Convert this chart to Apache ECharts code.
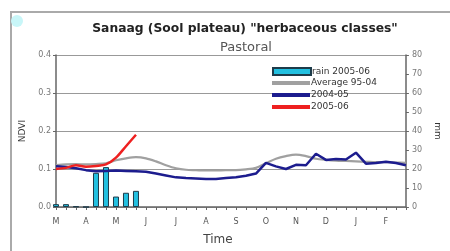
<!DOCTYPE html>
<html>
<head>
<meta charset="utf-8">
<script src="https://cdn.jsdelivr.net/npm/echarts@6/dist/echarts.min.js"></script>
<style>
  html, body { margin: 0; padding: 0; background: #fff; }
  #chart { width: 450px; height: 251px; }
</style>
</head>
<body>
<div id="chart"></div>
<script>
// dekads from March to February (3 per month)
const months = ['M', 'A', 'M', 'J', 'J', 'A', 'S', 'O', 'N', 'D', 'J', 'F']
const dekads = months.flatMap((m, i) => [1, 2, 3].map(d => m + '-' + i + '-' + d))

const rain0506 = [1.5, 1.5, 0.3, 0, 18, 21, 5.5, 7.5, 8.5]
const avg9504 = [0.110, 0.112, 0.113, 0.112, 0.113, 0.115, 0.123, 0.128, 0.131, 0.128,
  0.120, 0.110, 0.102, 0.098, 0.097, 0.096, 0.096, 0.097, 0.097, 0.099,
  0.103, 0.115, 0.127, 0.134, 0.138, 0.134, 0.127, 0.124, 0.122, 0.121,
  0.120, 0.119, 0.118, 0.118, 0.117, 0.116]
const ndvi0405 = [0.107, 0.105, 0.102, 0.097, 0.094, 0.095, 0.096, 0.095, 0.094, 0.093,
  0.088, 0.083, 0.078, 0.076, 0.075, 0.074, 0.074, 0.076, 0.078, 0.082,
  0.088, 0.116, 0.107, 0.100, 0.111, 0.110, 0.140, 0.124, 0.126, 0.125,
  0.143, 0.114, 0.116, 0.119, 0.116, 0.110]
const ndvi0506 = [0.100, 0.103, 0.110, 0.106, 0.108, 0.112, 0.130, 0.160, 0.190]

const font = '"DejaVu Sans", Verdana, sans-serif'

const chart = echarts.init(document.getElementById('chart'))

const legendText = { fontSize: 9, lineHeight: 12, color: '#333', fontFamily: font, padding: [0, 0, 0, -4] }

const option = {
  animation: false,
  textStyle: { fontFamily: font },
  title: [
    {
      text: 'Sanaag (Sool plateau) "herbaceous classes"',
      left: 240, top: 18, textAlign: 'center',
      textStyle: { fontSize: 12.3, fontWeight: 'bold', color: '#222', fontFamily: font }
    },
    {
      text: 'Pastoral',
      left: 241, top: 36, textAlign: 'center',
      textStyle: { fontSize: 13, fontWeight: 'normal', color: '#555', fontFamily: font }
    }
  ],
  graphic: [
    { type: 'rect', shape: { x: 11, y: 12, width: 460, height: 260 }, style: { fill: 'none', stroke: '#aaa', lineWidth: 2 } },
    { type: 'circle', shape: { cx: 17, cy: 21, r: 6 }, style: { fill: '#c8f6f8' } }
  ],
  legend: [
    {
      orient: 'vertical', left: 272, top: 65.5, padding: 0,
      itemWidth: 38, itemHeight: 7,
      textStyle: legendText,
      data: [{ name: 'rain 2005-06', icon: 'rect' }]
    },
    {
      orient: 'vertical', left: 272, top: 77, padding: 0,
      itemWidth: 38, itemHeight: 4, itemGap: 0,
      textStyle: legendText,
      data: [
        { name: 'Average 95-04', icon: 'rect' },
        { name: '2004-05', icon: 'rect' },
        { name: '2005-06', icon: 'rect' }
      ]
    }
  ],
  grid: { left: 56, right: 37, top: 55, bottom: 42 },
  xAxis: {
    type: 'category',
    data: dekads,
    boundaryGap: false,
    name: 'Time', nameLocation: 'middle', nameGap: 27,
    nameTextStyle: { fontSize: 12, color: '#444', padding: [0, 26, 0, 0] },
    axisLine: { lineStyle: { color: '#666', width: 1.5 } },
    axisTick: { interval: 0, length: 3, lineStyle: { color: '#666' } },
    axisLabel: {
      interval: 2, fontSize: 8, color: '#555', margin: 11,
      formatter: v => v.charAt(0)
    },
    splitLine: { show: false }
  },
  yAxis: [
    {
      type: 'value', min: 0, max: 0.4, interval: 0.1,
      name: 'NDVI', nameLocation: 'middle', nameGap: 28, nameRotate: 90,
      nameTextStyle: { fontSize: 9, color: '#333' },
      axisLine: { show: true, lineStyle: { color: '#666', width: 1.5 } },
      axisTick: { show: true, length: 3, lineStyle: { color: '#666' } },
      axisLabel: { fontSize: 8, color: '#777', margin: 5, formatter: v => v.toFixed(1) },
      splitLine: { lineStyle: { color: '#999', width: 1 } }
    },
    {
      type: 'value', min: 0, max: 80, interval: 10, position: 'right',
      name: 'mm', nameLocation: 'middle', nameGap: 22, nameRotate: -90,
      nameTextStyle: { fontSize: 9, color: '#333' },
      axisLine: { show: true, lineStyle: { color: '#666', width: 1.5 } },
      axisTick: { show: true, length: 3, lineStyle: { color: '#666' } },
      axisLabel: { fontSize: 8, color: '#777', margin: 6 },
      splitLine: { show: false }
    }
  ],
  series: [
    {
      name: 'rain 2005-06', type: 'bar', yAxisIndex: 1,
      data: rain0506, barWidth: 6,
      itemStyle: { color: '#22c0e0', borderColor: '#1d3b4a', borderWidth: 1 }
    },
    {
      name: 'Average 95-04', type: 'line', data: avg9504,
      symbol: 'none', smooth: 0.3,
      lineStyle: { color: '#a0a0a0', width: 2.2 }, itemStyle: { color: '#a0a0a0' }
    },
    {
      name: '2004-05', type: 'line', data: ndvi0405,
      symbol: 'none',
      lineStyle: { color: '#1c1c8e', width: 2.5 }, itemStyle: { color: '#1c1c8e' }
    },
    {
      name: '2005-06', type: 'line', data: ndvi0506,
      symbol: 'none', smooth: 0.3,
      lineStyle: { color: '#ee2020', width: 2.5 }, itemStyle: { color: '#ee2020' }
    }
  ]
}

chart.setOption(option)
</script>
</body>
</html>
